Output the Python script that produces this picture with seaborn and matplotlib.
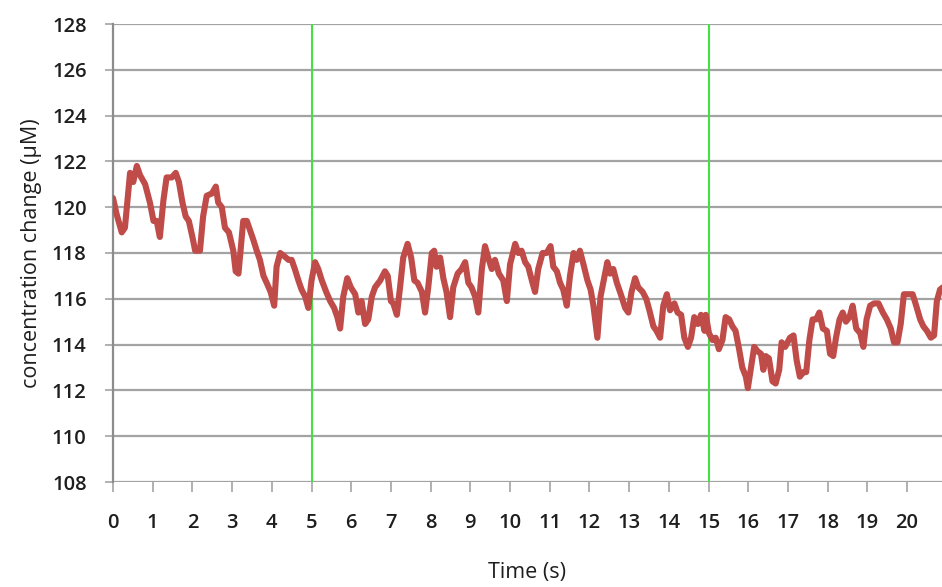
import matplotlib
matplotlib.use("Agg")
import matplotlib.pyplot as plt
import seaborn as sns
import pandas as pd

time_s = [
    0.00, 0.09, 0.22, 0.30, 0.43, 0.51, 0.60, 0.68, 0.81, 0.93, 1.02, 1.10, 1.18, 1.27, 1.35,
    1.48, 1.58, 1.66, 1.75, 1.83, 1.91, 2.00, 2.07, 2.19, 2.27, 2.36, 2.49, 2.59, 2.65, 2.74,
    2.82, 2.92, 3.03, 3.09, 3.16, 3.28, 3.37, 3.45, 3.53, 3.62, 3.70, 3.79, 3.87, 3.97, 4.06,
    4.12, 4.21, 4.29, 4.42, 4.50, 4.58, 4.67, 4.75, 4.84, 4.92, 5.00, 5.09, 5.17, 5.26, 5.37,
    5.47, 5.57, 5.65, 5.72, 5.80, 5.90, 5.99, 6.10, 6.18, 6.26, 6.35, 6.43, 6.52, 6.60, 6.73,
    6.85, 6.92, 7.00, 7.06, 7.15, 7.23, 7.31, 7.42, 7.51, 7.59, 7.67, 7.78, 7.86, 7.94, 8.03,
    8.09, 8.15, 8.24, 8.32, 8.40, 8.49, 8.57, 8.68, 8.78, 8.87, 8.95, 9.03, 9.12, 9.20, 9.29,
    9.37, 9.45, 9.54, 9.62, 9.72, 9.83, 9.92, 10.00, 10.13, 10.21, 10.29, 10.38, 10.46, 10.55,
    10.63, 10.71, 10.82, 10.92, 11.02, 11.09, 11.18, 11.26, 11.34, 11.43, 11.51, 11.60, 11.68,
    11.76, 11.85, 11.95, 12.03, 12.10, 12.20, 12.28, 12.37, 12.45, 12.52, 12.60, 12.69, 12.79,
    12.90, 12.98, 13.06, 13.15, 13.23, 13.34, 13.43, 13.51, 13.61, 13.69, 13.78, 13.86, 13.95,
    14.03, 14.14, 14.22, 14.31, 14.39, 14.48, 14.56, 14.64, 14.73, 14.81, 14.90, 14.93, 15.01,
    15.10, 15.18, 15.26, 15.35, 15.43, 15.52, 15.60, 15.68, 15.77, 15.85, 15.94, 15.99, 16.07,
    16.15, 16.24, 16.32, 16.38, 16.44, 16.52, 16.61, 16.69, 16.78, 16.84, 16.93, 17.05, 17.14,
    17.22, 17.30, 17.39, 17.46, 17.54, 17.62, 17.71, 17.79, 17.88, 17.98, 18.06, 18.14, 18.21,
    18.30, 18.38, 18.46, 18.55, 18.63, 18.72, 18.82, 18.90, 18.98, 19.07, 19.17, 19.28, 19.39,
    19.49, 19.59, 19.67, 19.76, 19.84, 19.92, 20.03, 20.14, 20.23, 20.33, 20.41, 20.50, 20.60,
    20.68, 20.75, 20.83, 20.90,
]
concentration = [
    120.4, 119.7, 118.9, 119.1, 121.5, 121.1, 121.8, 121.4, 121.0, 120.2, 119.4, 119.4, 118.7, 120.3, 121.3,
    121.3, 121.5, 121.1, 120.2, 119.6, 119.4, 118.7, 118.1, 118.1, 119.6, 120.5, 120.6, 120.9, 120.2, 120.0,
    119.1, 118.9, 118.1, 117.2, 117.1, 119.4, 119.4, 119.0, 118.6, 118.1, 117.7, 117.0, 116.7, 116.3, 115.7,
    117.4, 118.0, 117.9, 117.7, 117.7, 117.3, 116.8, 116.4, 116.1, 115.6, 116.8, 117.6, 117.3, 116.8, 116.3,
    115.9, 115.6, 115.2, 114.7, 116.1, 116.9, 116.5, 116.2, 115.4, 115.9, 114.9, 115.1, 116.1, 116.5, 116.8,
    117.2, 117.0, 115.9, 115.8, 115.3, 116.5, 117.8, 118.4, 117.8, 116.8, 116.7, 116.3, 115.4, 116.5, 118.0,
    118.1, 117.4, 117.8, 116.9, 116.3, 115.2, 116.5, 117.1, 117.3, 117.6, 116.7, 116.5, 116.1, 115.4, 117.3,
    118.3, 117.8, 117.3, 117.7, 117.1, 116.8, 115.9, 117.5, 118.4, 118.0, 118.1, 117.6, 117.4, 116.8,
    116.3, 117.3, 118.0, 118.0, 118.3, 117.4, 117.2, 116.7, 116.4, 115.7, 117.0, 118.0, 117.7,
    118.1, 117.5, 116.8, 116.4, 115.7, 114.3, 116.1, 116.9, 117.6, 117.1, 117.3, 116.7, 116.2,
    115.6, 115.4, 116.3, 116.9, 116.5, 116.3, 116.0, 115.5, 114.8, 114.6, 114.3, 115.7, 116.2,
    115.5, 115.8, 115.4, 115.3, 114.3, 113.9, 114.3, 115.2, 114.9, 115.3, 114.6, 115.3, 114.5,
    114.2, 114.3, 113.8, 114.2, 115.2, 115.1, 114.8, 114.6, 113.8, 113.0, 112.6, 112.1, 113.0,
    113.9, 113.7, 113.6, 112.9, 113.5, 113.4, 112.4, 112.3, 112.9, 114.1, 113.9, 114.3, 114.4,
    113.3, 112.6, 112.8, 112.8, 114.2, 115.1, 115.1, 115.4, 114.7, 114.6, 113.6, 113.5, 114.3,
    115.1, 115.4, 115.0, 115.2, 115.7, 114.7, 114.5, 113.9, 115.1, 115.7, 115.8, 115.8, 115.4,
    115.1, 114.7, 114.1, 114.1, 114.9, 116.2, 116.2, 116.2, 115.7, 115.1, 114.8, 114.6, 114.3,
    114.4, 115.9, 116.4, 116.5,
]
x_ticks = list(range(0, 21))
y_ticks = list(range(108, 129, 2))
marker_times = [5, 15]

df = pd.DataFrame({"Time (s)": time_s, "conc": concentration})

sns.set_theme(style="white")
plt.rcParams["font.family"] = ["Open Sans", "DejaVu Sans"]

fig = plt.figure(figsize=(9.42, 5.87), dpi=100)
ax = fig.add_axes([113 / 942, 1 - 482 / 587, 1 - 113 / 942, (482 - 24) / 587])

grid_col = "#A3A3A3"
for yv in y_ticks:
    ax.axhline(yv, color=grid_col, lw=1.6, zorder=1)
for xv in marker_times:
    ax.axvline(xv, color="#44E044", lw=1.5, zorder=2)

sns.lineplot(data=df, x="Time (s)", y="conc", color="#BF4C49", lw=4.4, ax=ax, zorder=3)

ax.set_xlim(0, 20.88)
ax.set_ylim(108, 128)
ax.set_xticks(x_ticks)
ax.set_yticks(y_ticks)
ax.set_xticklabels([str(v) for v in x_ticks], fontsize=14.5, fontweight="semibold", color="#1E1E1E")
ax.set_yticklabels([str(v) for v in y_ticks], fontsize=14.5, fontweight="semibold", color="#1E1E1E")
ax.tick_params(axis="x", direction="out", length=7, width=1.2, color=grid_col, pad=15, bottom=True)
ax.tick_params(axis="y", direction="out", length=6, width=1.2, color=grid_col, pad=13, left=True)

for s in ["top", "right", "bottom"]:
    ax.spines[s].set_visible(False)
ax.spines["left"].set_color("#8C8C8C")
ax.spines["left"].set_linewidth(1.6)

ax.set_xlabel("Time (s)", fontsize=15.5, labelpad=21, color="#1E1E1E")
ax.set_ylabel("concentration change (\u00b5M)", fontsize=15.5, labelpad=7, color="#1E1E1E")
ax.set_facecolor("white")

fig.savefig("out.png", dpi=100, facecolor="white")
